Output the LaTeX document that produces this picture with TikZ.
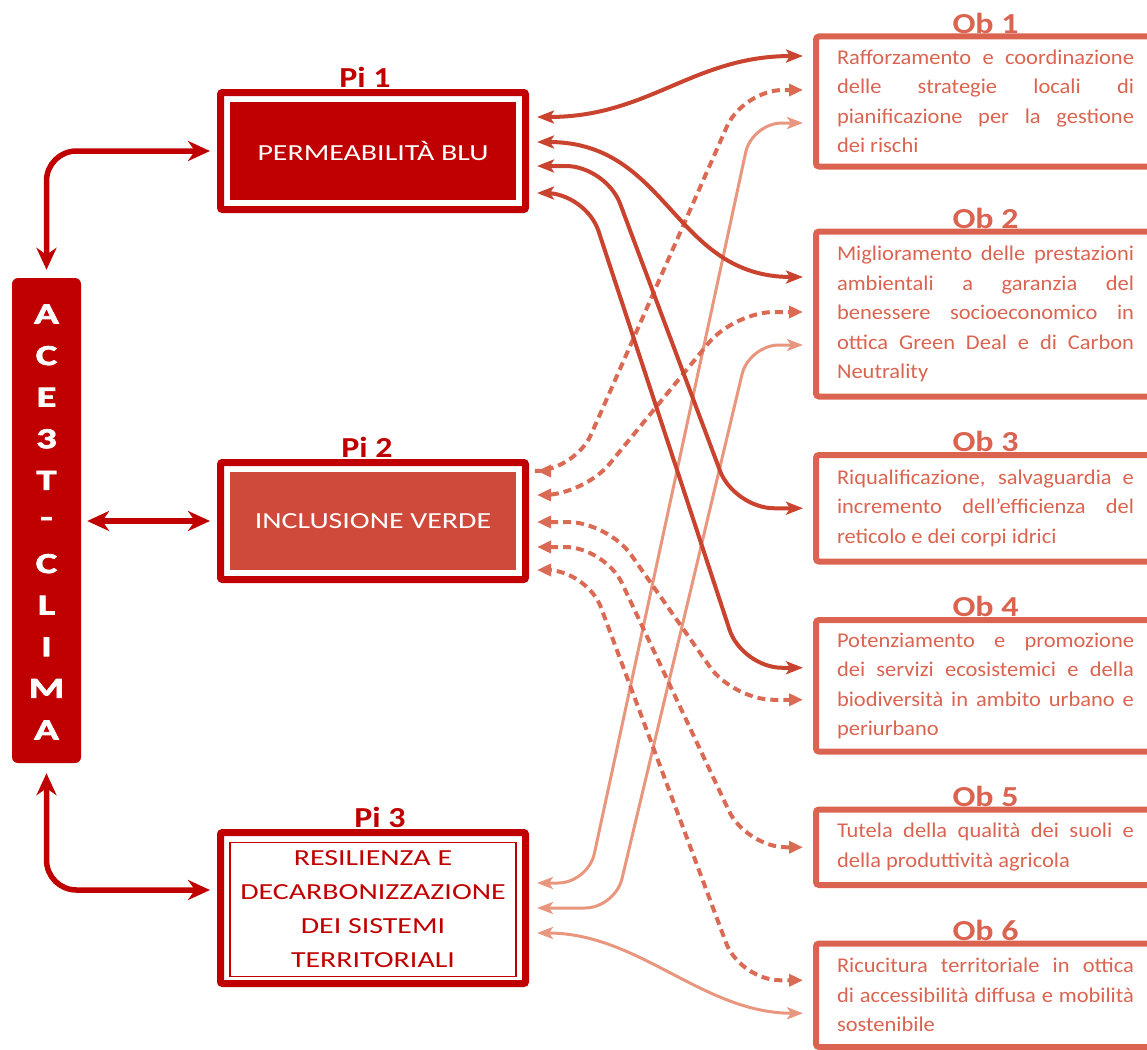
\documentclass[tikz,border=0pt]{standalone}
\usepackage{fontspec}
\setmainfont{Carlito}
\newfontfamily\widefont[FakeStretch=1.3]{Carlito}
\newfontfamily\obfont[FakeStretch=1.07]{Carlito}
\newfontfamily\tagfont[FakeStretch=1.17]{Carlito}
\newfontfamily\heavyfont[FakeStretch=1.4,FakeBold=2.5]{Carlito}
\usetikzlibrary{arrows.meta}
\hyphenpenalty=10000
\tolerance=10000

\definecolor{acered}{HTML}{C00000}
\definecolor{pitwo}{HTML}{CF4A3B}
\definecolor{linkdark}{HTML}{C9432E}
\definecolor{linkdash}{HTML}{DB6A55}
\definecolor{linklight}{HTML}{E9967F}
\definecolor{obcol}{HTML}{DA6450}

\begin{document}
\begin{tikzpicture}[x=1pt,y=-1pt,
    pibox/.style={draw=acered,line width=7pt,minimum width=305pt,minimum height=117pt,rounded corners=2pt},
    pifill/.style={fill=#1,minimum width=286pt,minimum height=98pt,text=white,font=\widefont\fontsize{23}{26}\selectfont},
    pilabel/.style={text=acered,font=\tagfont\bfseries\fontsize{29}{30}\selectfont,inner sep=0pt},
    obbox/.style={draw=obcol,line width=6pt,rounded corners=3pt,text width=297pt,inner xsep=21pt,align=justify,text=obcol,font=\obfont\fontsize{21}{29.5}\selectfont},
    oblabel/.style={text=obcol,font=\tagfont\bfseries\fontsize{29}{30}\selectfont,inner sep=0pt},
    aceletter/.style={text=white,font=\heavyfont\bfseries\fontsize{29}{30}\selectfont,inner sep=0pt},
    twoway/.style={draw=acered,line width=5.5pt,rounded corners=30pt,{Stealth[length=22pt,width=20pt,inset=7pt]}-{Stealth[length=22pt,width=20pt,inset=7pt]}},
    blulink/.style={draw=linkdark,line width=4pt,rounded corners=40pt,shorten <=8pt,shorten >=10pt,{Stealth[length=17pt,width=13pt,inset=4pt]}-{Stealth[length=17pt,width=13pt,inset=4pt]}},
    verdelink/.style={draw=linkdash,line width=4pt,dash pattern=on 8pt off 5pt,rounded corners=40pt,shorten <=8pt,shorten >=10pt,{Triangle[length=14pt,width=12pt]}-{Triangle[length=14pt,width=12pt]}},
    reslink/.style={draw=linklight,line width=3pt,rounded corners=30pt,shorten <=8pt,shorten >=10pt,{Stealth[length=16pt,width=12pt,inset=4pt]}-{Stealth[length=16pt,width=12pt,inset=4pt]}}]

    \path[use as bounding box] (0,0) rectangle (1147,1049);
    \clip (0,0) rectangle (1147,1049);

    % ACE3T-CLIMA column
    \node[fill=acered,rounded corners=6pt,minimum width=69pt,minimum height=485pt] (ace) at (46.5,520.5) {};
    \foreach \ch [count=\i] in {A,C,E,3,T,-,C,L,I,M,A}
        \node[aceletter] (ace\i) at (46.5,{314+41.6*(\i-1)}) {\ch};

    % Pi boxes
    \node[pibox,label={[pilabel,xshift=-8pt,yshift=1pt]above:Pi 1}] (pi1) at (373,151) {};
    \node[pifill=acered] (pi1in) at (373,151) {PERMEABILITÀ BLU};
    \node[pibox,label={[pilabel,xshift=-6pt,yshift=1pt]above:Pi 2}] (pi2) at (373,521) {};
    \node[pifill=pitwo] (pi2in) at (373,521) {INCLUSIONE VERDE};
    \node[pibox,minimum height=151pt,label={[pilabel,xshift=7pt,yshift=1pt]above:Pi 3}] (pi3) at (373,908) {};
    \node[draw=acered,line width=1.6pt,minimum width=286pt,minimum height=134pt,text=acered,align=center,
          font=\widefont\fontsize{23}{34}\selectfont] (pi3in) at (373,909.5)
        {RESILIENZA E\\DECARBONIZZAZIONE\\DEI SISTEMI\\TERRITORIALI};

    % Ob boxes
    \node[obbox,minimum height=130pt,label={[oblabel]above:Ob 1}] (ob1) at (985.5,101.5)
        {Rafforzamento e coordinazione\linebreak delle strategie locali di\linebreak pianificazione per la gestione\linebreak dei rischi};
    \node[obbox,minimum height=165pt,label={[oblabel]above:Ob 2}] (ob2) at (985.5,314)
        {Miglioramento delle prestazioni\linebreak ambientali a garanzia del\linebreak benessere socioeconomico in\linebreak ottica Green Deal e di Carbon\linebreak Neutrality};
    \node[obbox,minimum height=106.5pt,label={[oblabel]above:Ob 3}] (ob3) at (985.5,508.25)
        {Riqualificazione, salvaguardia e\linebreak incremento dell’efficienza del\linebreak reticolo e dei corpi idrici};
    \node[obbox,minimum height=131.5pt,label={[oblabel]above:Ob 4}] (ob4) at (985.5,685.75)
        {Potenziamento e promozione\linebreak dei servizi ecosistemici e della\linebreak biodiversità in ambito urbano e\linebreak periurbano};
    \node[obbox,minimum height=75.5pt,label={[oblabel]above:Ob 5}] (ob5) at (985.5,847.25)
        {Tutela della qualità dei suoli e\linebreak della produttività agricola};
    \node[obbox,minimum height=103.5pt,label={[oblabel]above:Ob 6}] (ob6) at (985.5,995.25)
        {Ricucitura territoriale in ottica\linebreak di accessibilità diffusa e mobilità\linebreak sostenibile};

    % ACE3T-CLIMA <-> Pi
    \draw[twoway,shorten <=8pt,shorten >=7pt] (ace.north) |- (pi1.west);
    \draw[twoway,shorten <=6pt,shorten >=7pt] (ace.east |- pi2.west) -- (pi2.west);
    \draw[twoway,shorten <=10pt,shorten >=7pt] (ace.south) |- ([yshift=18pt]pi3.west);

    % Pi 3 links
    \draw[reslink] ([yshift=25pt]pi3.east) -- ++(59,0) -- ([xshift=-61pt,yshift=-21.5pt]ob1.west) -- ([yshift=-21.5pt]ob1.west);
    \draw[reslink] (pi3.east) -- ++(86,0) -- ([xshift=-64pt,yshift=-31pt]ob2.west) -- ([yshift=-31pt]ob2.west);
    \draw[reslink] ([yshift=-25pt]pi3.east) .. controls +(110,0) and +(-110,0) .. ([yshift=-18pt]ob6.west);

    % Pi 2 links
    \draw[verdelink] ([yshift=50pt]pi2.east) -- ++(46,0) -- ([xshift=-70pt,yshift=11.5pt]ob1.west) -- ([yshift=11.5pt]ob1.west);
    \draw[verdelink] ([yshift=26pt]pi2.east) -- ++(55,0) -- ([xshift=-79pt,yshift=2pt]ob2.west) -- ([yshift=2pt]ob2.west);
    \draw[verdelink] ([yshift=-1pt]pi2.east) -- ++(79,0) -- ([xshift=-80pt,yshift=-14pt]ob4.west) -- ([yshift=-14pt]ob4.west);
    \draw[verdelink] ([yshift=-26pt]pi2.east) -- ++(76,0) -- ([xshift=-67pt]ob5.west) -- (ob5.west);
    \draw[verdelink] ([yshift=-49pt]pi2.east) -- ++(58,0) -- ([xshift=-73pt,yshift=15pt]ob6.west) -- ([yshift=15pt]ob6.west);

    % Pi 1 links
    \draw[blulink] ([yshift=34pt]pi1.east) .. controls +(120,0) and +(-120,0) .. ([yshift=45.5pt]ob1.west);
    \draw[blulink] ([yshift=9pt]pi1.east) .. controls +(140,0) and +(-140,0) .. ([yshift=37pt]ob2.west);
    \draw[blulink] ([yshift=-15pt]pi1.east) -- ++(77,0) -- ([xshift=-79pt]ob3.west) -- (ob3.west);
    \draw[blulink] ([yshift=-42pt]pi1.east) -- ++(57,0) -- ([xshift=-71pt,yshift=18pt]ob4.west) -- ([yshift=18pt]ob4.west);
\end{tikzpicture}
\end{document}
